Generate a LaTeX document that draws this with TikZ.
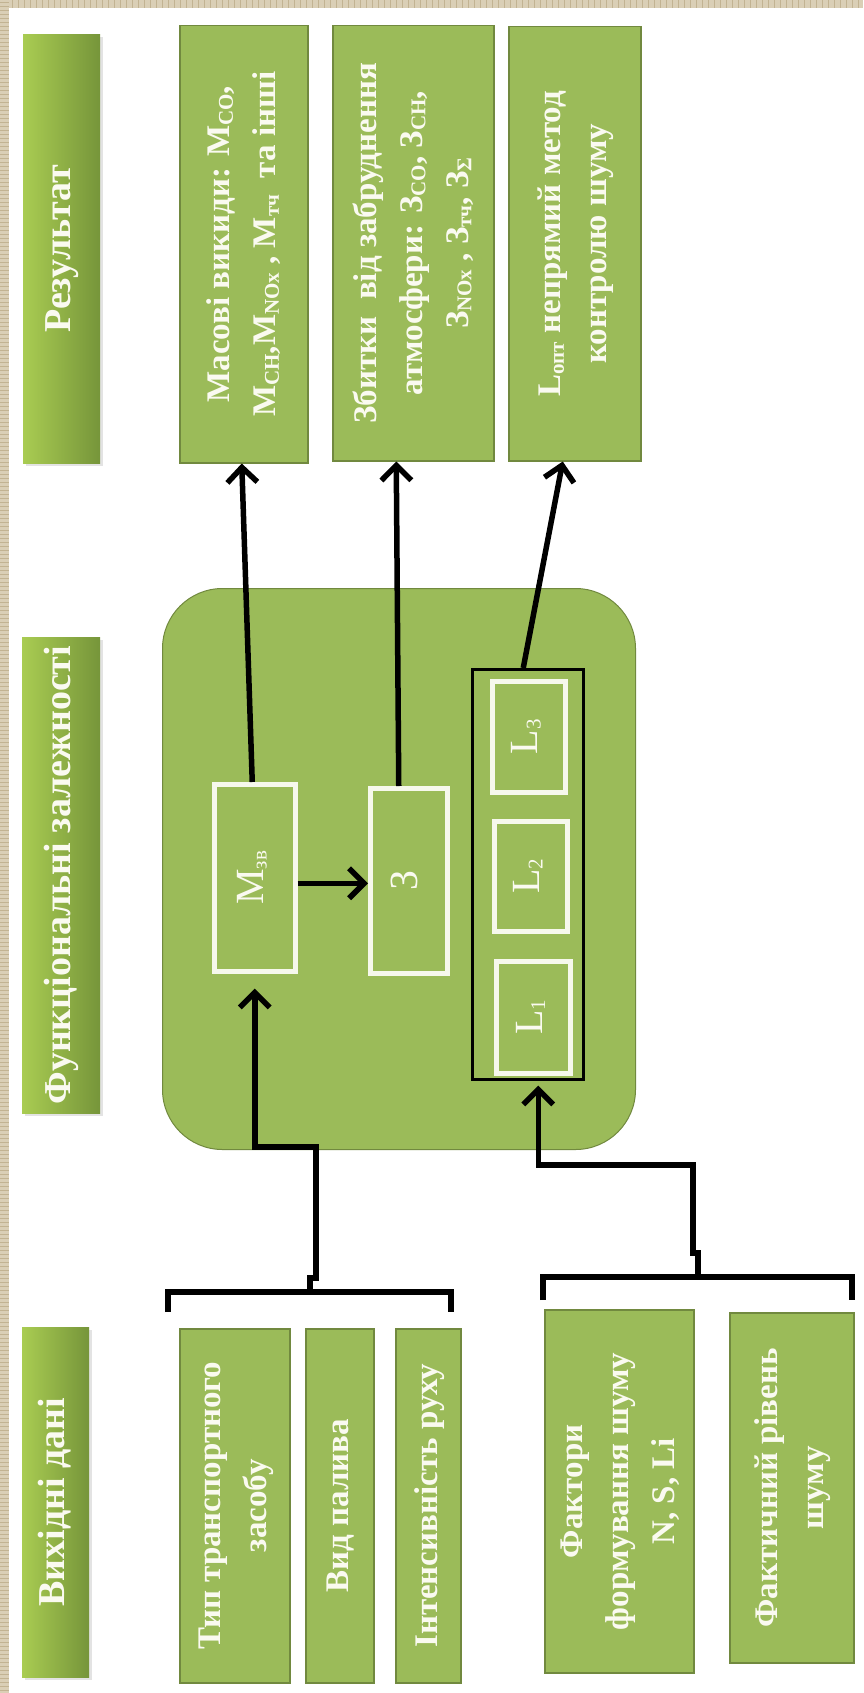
\documentclass[tikz,border=0pt]{standalone}
\usepackage{fontspec}
\setmainfont{Liberation Serif}
\usepackage{graphicx}
\usetikzlibrary{arrows.meta,calc,shadows}

\definecolor{leaf}{HTML}{9BBB59}
\definecolor{leafdark}{HTML}{71893F}
\definecolor{hdrlight}{HTML}{A9CC52}
\definecolor{hdrdark}{HTML}{76953A}
\definecolor{ink}{HTML}{FAFAF0}
\definecolor{framewhite}{HTML}{F6F8EC}
\definecolor{paper}{HTML}{DACFB6}
\definecolor{paperline}{HTML}{C2B392}

% rotated (bottom-to-top) multi-line label
\newcommand\vlabel[1]{\rotatebox{90}{\begin{tabular}{@{}c@{}}#1\end{tabular}}}
% small subscript set close to the baseline
\newcommand\sbx[1]{\raisebox{-3pt}{\fontsize{21}{21}\selectfont #1}}

\tikzset{
  hdr/.style={draw=none, left color=hdrlight, right color=hdrdark, inner sep=0pt,
    anchor=north west, text=ink, font=\fontsize{38}{44}\selectfont\bfseries,
    drop shadow={shadow xshift=3pt, shadow yshift=-3pt, opacity=0.22}},
  gbox/.style={fill=leaf, draw=leafdark, line width=1.5pt, inner sep=0pt,
    anchor=north west, text=ink, font=\fontsize{33}{46}\selectfont\bfseries},
  wbox/.style={draw=framewhite, line width=4.5pt, inner sep=0pt,
    anchor=north west, text=ink, font=\fontsize{40}{44}\selectfont},
  conn/.style={line width=5.5pt, draw=black},
  arr/.style={conn, -{Straight Barb[length=15pt,width=30pt]}},
}

\begin{document}
\begin{tikzpicture}[x=1pt,y=-1pt]
\useasboundingbox (0,0) rectangle (863,1693);

% page and textured paper edges
\fill[white] (0,0) rectangle (863,1693);
\fill[paper] (0,0) rectangle (9,1693);
\fill[paper] (0,0) rectangle (863,8);
\foreach \t in {2,6,...,1690} \draw[paperline, line width=0.8pt] (0,\t) -- (9,\t);
\foreach \t in {12,18,...,860} \draw[paperline, line width=0.8pt] (\t,0) -- (\t,8);

% column headers
\node[hdr, minimum width=77, minimum height=429] (h1) at (23,34) {\vlabel{Результат}};
\node[hdr, minimum width=78, minimum height=476] (h2) at (22,637) {\vlabel{Функціональні залежності}};
\node[hdr, minimum width=67, minimum height=350] (h3) at (22,1327) {\vlabel{Вихідні дані}};

% results
\node[gbox, minimum width=128, minimum height=437] (res1) at (179,25)
  {\vlabel{Масові викиди: M\sbx{CO}, \\ M\sbx{CH},M\sbx{NOx} , M\sbx{тч}\ \ та інші}};
\node[gbox, minimum width=161, minimum height=435] (res2) at (332,25)
  {\vlabel{Збитки\ \ від забруднення \\ атмосфери: З\sbx{CO}, З\sbx{CH}, \\ З\sbx{NOx} , З\sbx{тч}, З\sbx{Σ}}};
\node[gbox, minimum width=132, minimum height=434] (res3) at (508,26)
  {\vlabel{L\sbx{опт} непрямий метод \\ контролю шуму}};

% functional dependencies block
\node[fill=leaf, draw=leafdark, line width=1pt, rounded corners=60pt, inner sep=0pt,
  anchor=north west, minimum width=473, minimum height=561] (func) at (162,588) {};
\node[wbox, minimum width=81, minimum height=187] (mzv) at (212,782) {\vlabel{M\sbx{зв}}};
\node[wbox, minimum width=77, minimum height=185] (zbk) at (368,786) {\vlabel{З}};
\node[draw=black, line width=2.5pt, inner sep=0pt, anchor=north west,
  minimum width=111, minimum height=410] (cont) at (471,668) {};
\node[wbox, minimum width=73, minimum height=111] (l3) at (490,679) {\vlabel{L\sbx{3}}};
\node[wbox, minimum width=73, minimum height=110] (l2) at (492,819) {\vlabel{L\sbx{2}}};
\node[wbox, minimum width=74, minimum height=112] (l1) at (494,959) {\vlabel{L\sbx{1}}};

% input data
\node[gbox, minimum width=110, minimum height=354] (tip) at (179,1328) {\vlabel{Тип транспортного \\ засобу}};
\node[gbox, minimum width=68, minimum height=354] (vyd) at (305,1328) {\vlabel{Вид палива}};
\node[gbox, minimum width=65, minimum height=354] (inten) at (395,1328) {\vlabel{Інтенсивність руху}};
\node[gbox, minimum width=149, minimum height=363] (fak) at (544,1309) {\vlabel{Фактори \\ формування шуму \\ N, S, Li}};
\node[gbox, minimum width=124, minimum height=350] (fac) at (729,1312) {\vlabel{Фактичний рівень \\ шуму}};

% brackets grouping the inputs
\coordinate (lbl) at (168,1312);
\coordinate (lbm) at (310,1292);
\coordinate (lbr) at (451,1312);
\coordinate (rbl) at (543,1300);
\coordinate (rbm) at (698,1277);
\coordinate (rbr) at (852,1300);
\draw[conn] (lbl) |- (lbm) -| (lbr);
\draw[conn] (rbl) |- (rbm) -| (rbr);

% inputs into the block
\coordinate (ljog) at (316,1147);
\coordinate (rjog) at (693,1165);
\draw[arr] (lbm) -- ++(0,-14) -- ++(6,0) -- (ljog) -| ([yshift=-15pt]mzv.south);
\draw[arr] (rbm) -- ++(0,-24) -- ++(-5,0) -- (rjog) -| ([xshift=10.5pt,yshift=-5pt]cont.south);

% internal link and outputs
\draw[arr] ([yshift=-5.5pt]mzv.east) -- ([yshift=-2.5pt]zbk.west);
\draw[arr] ([xshift=-2.5pt]mzv.north) -- ([xshift=-2pt]res1.south);
\draw[arr] ([xshift=-10pt]zbk.north) -- ([xshift=-17pt]res2.south);
\draw[arr] ([xshift=-4.5pt]cont.north) -- ([xshift=-12pt]res3.south);
\end{tikzpicture}
\end{document}
